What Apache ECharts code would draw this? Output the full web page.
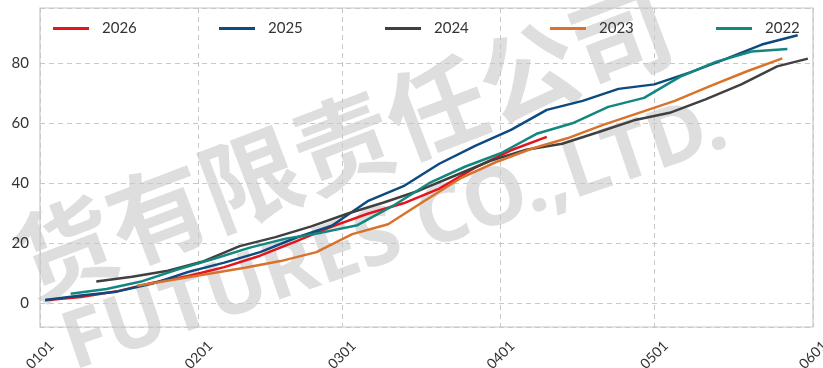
<!DOCTYPE html>
<html>
<head>
<meta charset="utf-8">
<script src="https://cdn.jsdelivr.net/npm/echarts@6/dist/echarts.min.js"></script>
<style>
html,body{margin:0;padding:0;background:#fff;}
#chart{width:823px;height:368px;}
</style>
</head>
<body>
<div id="chart"></div>
<script>
// weekly cumulative values, dates as MM-DD (aligned on one calendar year)
var dates2026=['01-02','01-09','01-16','01-23','01-30','02-06','02-13','02-20','02-27','03-06','03-13','03-20','03-27','04-03','04-10'];
var vals2026=[0.9,2.0,3.9,6.8,9.0,12.0,15.8,20.6,25.5,29.8,33.3,38.2,45.2,51.0,55.5];

var dates2025=['01-02','01-09','01-16','01-23','01-30','02-06','02-13','02-20','02-27','03-06','03-13','03-20','03-27','04-03','04-10','04-17','04-24','05-01','05-08','05-15','05-22','05-29'];
var vals2025=[1.0,2.5,3.8,6.5,10.4,13.5,17.0,21.8,25.8,34.0,39.0,46.5,52.5,57.8,64.5,67.5,71.5,73.0,77.0,81.5,86.3,89.4];

var dates2024=['01-12','01-19','01-26','02-02','02-09','02-16','02-23','03-02','03-09','03-16','03-23','03-30','04-06','04-13','04-20','04-27','05-04','05-11','05-18','05-25','05-31'];
var vals2024=[7.2,8.8,10.8,14.0,19.0,22.0,25.6,29.8,33.5,37.5,42.5,47.5,51.2,53.2,57.0,61.0,63.5,68.0,73.0,79.0,81.6];

var dates2023=['01-20','01-27','02-03','02-10','02-17','02-24','03-03','03-10','03-17','03-24','03-31','04-07','04-14','04-21','04-28','05-05','05-12','05-19','05-26'];
var vals2023=[5.8,7.8,9.8,11.8,14.0,17.0,23.0,26.3,34.0,41.5,47.0,51.5,55.0,59.5,63.5,67.5,72.5,77.3,81.7];

var dates2022=['01-07','01-14','01-21','01-28','02-04','02-11','02-18','02-25','03-04','03-11','03-18','03-25','04-01','04-08','04-15','04-22','04-29','05-06','05-13','05-20','05-27'];
var vals2022=[3.1,4.7,7.3,11.3,14.8,18.5,21.5,23.5,26.0,32.5,40.0,45.5,50.0,56.5,60.0,65.5,68.5,75.5,80.5,84.0,84.8];

var seriesNames=['2026','2025','2024','2023','2022'];
var seriesColors=['#e3141c','#0c4a80','#404040','#d9732b','#12877f'];
var seriesDates=[dates2026,dates2025,dates2024,dates2023,dates2022];
var seriesVals=[vals2026,vals2025,vals2024,vals2023,vals2022];

var refYear='2023-';
var fontFamily='Lato, "Noto Sans", sans-serif';

function pad(n){return n<10?'0'+n:''+n;}

var chart=echarts.init(document.getElementById('chart'),null,{renderer:'canvas'});

var series=seriesNames.map(function(name,i){
	return {
		name:name,
		type:'line',
		symbol:'none',
		smooth:false,
		z:3,
		lineStyle:{width:2.5,color:seriesColors[i]},
		itemStyle:{color:seriesColors[i]},
		data:seriesDates[i].map(function(d,j){return [refYear+d,seriesVals[i][j]];})
	};
});

// one legend per entry so the spacing matches the reference
var legendLeft=[53,219,385,550,716];
var legends=seriesNames.map(function(name,i){
	return {
		data:[name],
		left:legendLeft[i],
		top:21,
		padding:0,
		icon:'rect',
		itemWidth:36,
		itemHeight:3,
		textStyle:{fontFamily:fontFamily,fontSize:15,color:'#333',padding:[0,0,0,8]}
	};
});

var option={
	animation:false,
	backgroundColor:'#fff',
	grid:{left:40,right:10,top:8,bottom:41,outerBoundsMode:'none',containLabel:false,show:true,borderColor:'#c8c8c8',borderWidth:1.2,backgroundColor:'transparent'},
	graphic:[
		{type:'text',z:-10,x:343,y:143,rotation:0.363,
		 style:{text:'货有限责任公司',font:'bold 99px "Noto Sans CJK SC", sans-serif',fill:'#dedede',textAlign:'center',textVerticalAlign:'middle'}},
		{type:'text',z:-10,x:395,y:236,rotation:0.33,
		 style:{text:'FUTURES CO.,LTD.',font:'bold 80px "Noto Sans", sans-serif',fill:'#dedede',textAlign:'center',textVerticalAlign:'middle'}}
	],
	legend:legends,
	xAxis:{
		type:'time',
		min:refYear+'01-01',
		max:refYear+'06-01',
		splitNumber:5,
		axisLine:{show:false},
		axisTick:{show:false},
		axisLabel:{
			rotate:45,
			align:'center',
			verticalAlign:'middle',
			margin:28,
			fontFamily:fontFamily,
			fontSize:14,
			color:'#333',
			showMinLabel:true,
			showMaxLabel:true,
			formatter:function(v){var d=new Date(v);return pad(d.getMonth()+1)+pad(d.getDate());}
		},
		splitLine:{show:true,lineStyle:{type:[5,4],color:'#c8c8c8',width:1}}
	},
	yAxis:{
		type:'value',
		min:-8,
		max:98.5,
		splitNumber:5,
		axisLine:{show:false},
		axisTick:{show:false},
		axisLabel:{
			showMinLabel:false,
			showMaxLabel:false,
			margin:11,
			fontFamily:fontFamily,
			fontSize:15,
			color:'#333'
		},
		splitLine:{show:true,lineStyle:{type:[5,4],color:'#c8c8c8',width:1}}
	},
	series:series
};

chart.setOption(option);
</script>
</body>
</html>
